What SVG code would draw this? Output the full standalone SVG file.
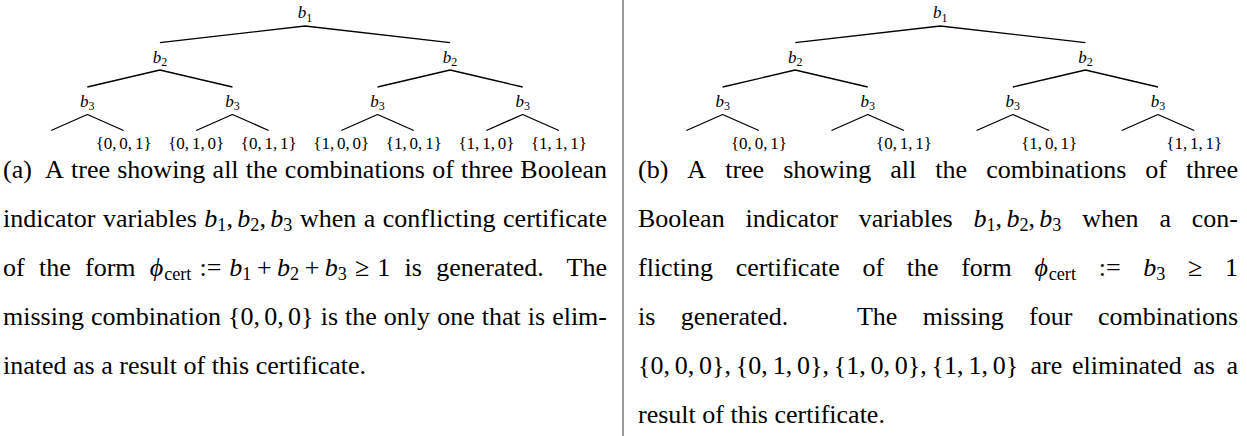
<svg xmlns="http://www.w3.org/2000/svg" width="1247" height="436" viewBox="0 0 1247 436">
<style>
text{font-family:"Liberation Serif","Times New Roman","DejaVu Serif",serif;fill:#000}
.t{font-size:26px}
.n{font-size:17px}
.i{font-style:italic}
.sb{font-size:18.2px}
.ns{font-size:12px}
.e{stroke:#000;stroke-width:1.3;fill:none}
.end{text-anchor:end}
.mid{text-anchor:middle}
</style>
<rect width="1247" height="436" fill="#fff"/>
<line x1="623" y1="0" x2="623" y2="436" stroke="#555" stroke-width="1.2"/>

<!-- connectors -->
<g id="connectors" class="e">
<path d="M305 26L159.9 42.7M305 26L450.1 42.7"/>
<path d="M159.9 70L87.35 87M159.9 70L232.45 87M450.1 70L377.55 87M450.1 70L522.65 87"/>
<path d="M87.35 114.5L51.07 130.5M87.35 114.5L123.62 130.5M232.45 114.5L196.17 130.5M232.45 114.5L268.72 130.5M377.55 114.5L341.28 130.5M377.55 114.5L413.83 130.5M522.65 114.5L486.38 130.5M522.65 114.5L558.93 130.5"/>
<path d="M940.3 26L795.2 42.7M940.3 26L1085.4 42.7"/>
<path d="M795.2 70L722.65 87M795.2 70L867.75 87M1085.4 70L1012.85 87M1085.4 70L1157.95 87"/>
<path d="M722.65 114.5L686.37 130.5M722.65 114.5L758.92 130.5M867.75 114.5L831.47 130.5M867.75 114.5L904.02 130.5M1012.85 114.5L976.58 130.5M1012.85 114.5L1049.13 130.5M1157.95 114.5L1121.68 130.5M1157.95 114.5L1194.23 130.5"/>
</g>

<!-- left tree nodes -->
<g id="a-b1"><text class="n mid" x="305" y="18"><tspan class="i">b</tspan><tspan class="ns" dy="3.5">1</tspan></text></g>
<g id="a-b2-0"><text class="n mid" x="159.9" y="62.5"><tspan class="i">b</tspan><tspan class="ns" dy="3.5">2</tspan></text></g>
<g id="a-b2-1"><text class="n mid" x="450.1" y="62.5"><tspan class="i">b</tspan><tspan class="ns" dy="3.5">2</tspan></text></g>
<g id="a-b3-00"><text class="n mid" x="87.35" y="106.5"><tspan class="i">b</tspan><tspan class="ns" dy="3.5">3</tspan></text></g>
<g id="a-b3-01"><text class="n mid" x="232.45" y="106.5"><tspan class="i">b</tspan><tspan class="ns" dy="3.5">3</tspan></text></g>
<g id="a-b3-10"><text class="n mid" x="377.55" y="106.5"><tspan class="i">b</tspan><tspan class="ns" dy="3.5">3</tspan></text></g>
<g id="a-b3-11"><text class="n mid" x="522.65" y="106.5"><tspan class="i">b</tspan><tspan class="ns" dy="3.5">3</tspan></text></g>
<g id="a-001"><text class="n mid" x="123.62" y="149">{0,<tspan dx="2.8">0,</tspan><tspan dx="2.8">1}</tspan></text></g>
<g id="a-010"><text class="n mid" x="196.17" y="149">{0,<tspan dx="2.8">1,</tspan><tspan dx="2.8">0}</tspan></text></g>
<g id="a-011"><text class="n mid" x="268.72" y="149">{0,<tspan dx="2.8">1,</tspan><tspan dx="2.8">1}</tspan></text></g>
<g id="a-100"><text class="n mid" x="341.28" y="149">{1,<tspan dx="2.8">0,</tspan><tspan dx="2.8">0}</tspan></text></g>
<g id="a-101"><text class="n mid" x="413.83" y="149">{1,<tspan dx="2.8">0,</tspan><tspan dx="2.8">1}</tspan></text></g>
<g id="a-110"><text class="n mid" x="486.38" y="149">{1,<tspan dx="2.8">1,</tspan><tspan dx="2.8">0}</tspan></text></g>
<g id="a-111"><text class="n mid" x="558.93" y="149">{1,<tspan dx="2.8">1,</tspan><tspan dx="2.8">1}</tspan></text></g>

<!-- right tree nodes -->
<g id="b-b1"><text class="n mid" x="940.3" y="18"><tspan class="i">b</tspan><tspan class="ns" dy="3.5">1</tspan></text></g>
<g id="b-b2-0"><text class="n mid" x="795.2" y="62.5"><tspan class="i">b</tspan><tspan class="ns" dy="3.5">2</tspan></text></g>
<g id="b-b2-1"><text class="n mid" x="1085.4" y="62.5"><tspan class="i">b</tspan><tspan class="ns" dy="3.5">2</tspan></text></g>
<g id="b-b3-00"><text class="n mid" x="722.65" y="106.5"><tspan class="i">b</tspan><tspan class="ns" dy="3.5">3</tspan></text></g>
<g id="b-b3-01"><text class="n mid" x="867.75" y="106.5"><tspan class="i">b</tspan><tspan class="ns" dy="3.5">3</tspan></text></g>
<g id="b-b3-10"><text class="n mid" x="1012.85" y="106.5"><tspan class="i">b</tspan><tspan class="ns" dy="3.5">3</tspan></text></g>
<g id="b-b3-11"><text class="n mid" x="1157.95" y="106.5"><tspan class="i">b</tspan><tspan class="ns" dy="3.5">3</tspan></text></g>
<g id="b-001"><text class="n mid" x="758.92" y="149">{0,<tspan dx="2.8">0,</tspan><tspan dx="2.8">1}</tspan></text></g>
<g id="b-011"><text class="n mid" x="904.02" y="149">{0,<tspan dx="2.8">1,</tspan><tspan dx="2.8">1}</tspan></text></g>
<g id="b-101"><text class="n mid" x="1049.13" y="149">{1,<tspan dx="2.8">0,</tspan><tspan dx="2.8">1}</tspan></text></g>
<g id="b-111"><text class="n mid" x="1194.23" y="149">{1,<tspan dx="2.8">1,</tspan><tspan dx="2.8">1}</tspan></text></g>

<!-- caption (a) -->
<g id="caption-a" class="t">
<text class="t" y="177.5"><tspan x="3">(a) </tspan><tspan x="45">A </tspan><tspan x="71.02">tree </tspan><tspan x="117.24">showing </tspan><tspan x="212.6">all </tspan><tspan x="245.84">the </tspan><tspan x="284.86">combinations </tspan><tspan x="432.22">of </tspan><tspan x="461.12">three </tspan><tspan x="607" class="end">Boolean</tspan></text>
<text class="t" y="226.5"><tspan x="3">indicator </tspan><tspan x="102.97">variables </tspan><tspan x="204.37" class="i">b</tspan><tspan x="217.37" y="231" class="sb">1</tspan><tspan x="226.47" y="226.5">,</tspan><tspan x="237.31" class="i">b</tspan><tspan x="250.31" y="231" class="sb">2</tspan><tspan x="259.41" y="226.5">,</tspan><tspan x="270.25" class="i">b</tspan><tspan x="283.25" y="231" class="sb">3 </tspan><tspan x="299.89" y="226.5">when </tspan><tspan x="363.75">a </tspan><tspan x="382.83">conflicting </tspan><tspan x="607" class="end">certificate</tspan></text>
<text class="t" y="275.5"><tspan x="3">of </tspan><tspan x="38.96">the </tspan><tspan x="85.03">form </tspan><tspan x="149.87" class="i">ϕ</tspan><tspan x="164.17" y="280" class="sb">cert </tspan><tspan x="199.45" y="275.5">:= </tspan><tspan x="229.35" class="i">b</tspan><tspan x="242.35" y="280" class="sb">1 </tspan><tspan x="256.95" y="275.5">+ </tspan><tspan x="277.11" class="i">b</tspan><tspan x="290.11" y="280" class="sb">2 </tspan><tspan x="304.71" y="275.5">+ </tspan><tspan x="324.87" class="i">b</tspan><tspan x="337.87" y="280" class="sb">3 </tspan><tspan x="354.97" y="275.5">≥ </tspan><tspan x="377.24">1 </tspan><tspan x="404.54">is </tspan><tspan x="436.18">generated. </tspan><tspan x="607" class="end">The</tspan></text>
<text class="t" y="324.5"><tspan x="3">missing </tspan><tspan x="90.95">combination </tspan><tspan x="227.99">{0,<tspan dx="4.3">0,</tspan><tspan dx="4.3">0} </tspan></tspan><tspan x="320.67">is </tspan><tspan x="345.05">the </tspan><tspan x="383.86">only </tspan><tspan x="437.13">one </tspan><tspan x="481.71">that </tspan><tspan x="527.75">is </tspan><tspan x="607" class="end">elim-</tspan></text>
<text class="t" x="3" y="373.5">inated as a result of this certificate.</text>
</g>

<!-- caption (b) -->
<g id="caption-b" class="t">
<text class="t" y="177.5"><tspan x="638">(b) </tspan><tspan x="687.36">A </tspan><tspan x="725.17">tree </tspan><tspan x="783.18">showing </tspan><tspan x="890.33">all </tspan><tspan x="935.37">the </tspan><tspan x="986.18">combinations </tspan><tspan x="1145.33">of </tspan><tspan x="1238" class="end">three</tspan></text>
<text class="t" y="226.5"><tspan x="638">Boolean </tspan><tspan x="745.5">indicator </tspan><tspan x="858.77">variables </tspan><tspan x="973.47" class="i">b</tspan><tspan x="986.47" y="231" class="sb">1</tspan><tspan x="995.57" y="226.5">,</tspan><tspan x="1006.41" class="i">b</tspan><tspan x="1019.41" y="231" class="sb">2</tspan><tspan x="1028.51" y="226.5">,</tspan><tspan x="1039.35" class="i">b</tspan><tspan x="1052.35" y="231" class="sb">3 </tspan><tspan x="1082.29" y="226.5">when </tspan><tspan x="1159.45">a </tspan><tspan x="1238" class="end">con-</tspan></text>
<text class="t" y="275.5"><tspan x="638">flicting </tspan><tspan x="735.79">certificate </tspan><tspan x="862.42">of </tspan><tspan x="906.76">the </tspan><tspan x="961.21">form </tspan><tspan x="1034.43" class="i">ϕ</tspan><tspan x="1048.73" y="280" class="sb">cert </tspan><tspan x="1098.69" y="275.5">:= </tspan><tspan x="1143.27" class="i">b</tspan><tspan x="1156.27" y="280" class="sb">3 </tspan><tspan x="1188.05" y="275.5">≥ </tspan><tspan x="1238" class="end">1</tspan></text>
<text class="t" y="324.5"><tspan x="638">is </tspan><tspan x="680.76">generated. </tspan><tspan x="856.92">The </tspan><tspan x="922.77">missing </tspan><tspan x="1029.1">four </tspan><tspan x="1238" class="end">combinations</tspan></text>
<text class="t" y="373.5"><tspan x="638">{0,<tspan dx="4.8">0,</tspan><tspan dx="4.8">0},</tspan><tspan dx="4.8">{0,</tspan><tspan dx="4.8">1,</tspan><tspan dx="4.8">0},</tspan><tspan dx="4.8">{1,</tspan><tspan dx="4.8">0,</tspan><tspan dx="4.8">0},</tspan><tspan dx="4.8">{1,</tspan><tspan dx="4.8">1,</tspan><tspan dx="4.8">0} </tspan></tspan><tspan x="1030.5">are </tspan><tspan x="1072.05">eliminated </tspan><tspan x="1193.32">as </tspan><tspan x="1238" class="end">a</tspan></text>
<text class="t" x="638" y="422.5">result of this certificate.</text>
</g>
</svg>
